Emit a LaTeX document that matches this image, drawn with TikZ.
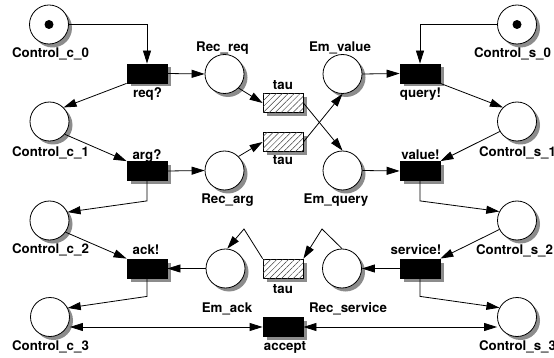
\documentclass[tikz,border=0pt]{standalone}
\usepackage{fontspec}
\setmainfont{TeX Gyre Heros}
\usetikzlibrary{shadows,patterns.meta,arrows.meta}
\begin{document}
\begin{tikzpicture}[x=1pt,y=-1pt,
  shd/.style={drop shadow={shadow xshift=3.5pt,shadow yshift=-3.5pt,fill=black!45,opacity=1}},
  place/.style={circle,draw,line width=0.8pt,fill=white,minimum size=39pt,inner sep=0pt,shd},
  trans/.style={rectangle,draw,line width=0.8pt,fill=black,minimum width=40pt,minimum height=19pt,inner sep=0pt,shd},
  tautrans/.style={rectangle,draw,line width=0.8pt,fill=white,minimum width=40pt,minimum height=19pt,inner sep=0pt,shd,
     postaction={pattern={Lines[angle=45,distance=4.2pt,line width=0.5pt]},pattern color=black!75}},
  lbl/.style={font=\fontsize{13.3}{15}\selectfont\bfseries,inner sep=0pt,anchor=base},
  arc/.style={line width=0.8pt,-{Triangle[length=13pt,width=8pt]}},
  arcboth/.style={line width=0.8pt,{Triangle[length=13pt,width=8pt]}-{Triangle[length=13pt,width=8pt]}},
  tokenstyle/.style={circle,fill=black,inner sep=0pt,minimum size=9pt}
]
\useasboundingbox (0,0) rectangle (554,358);

% places
\node[place] (cc0) at (49,24.5) {};
\node[tokenstyle] (tok0) at (cc0) {};
\node[place] (cc1) at (49.5,121.5) {};
\node[place] (cc2) at (49.5,220.5) {};
\node[place] (cc3) at (50,317) {};
\node[place] (cs0) at (517,24.5) {};
\node[tokenstyle] (tok1) at (cs0) {};
\node[place] (cs1) at (517,121.5) {};
\node[place] (cs2) at (517,220.5) {};
\node[place] (cs3) at (517,317) {};
\node[place] (recreq) at (224.5,74) {};
\node[place] (recarg) at (224.5,170.5) {};
\node[place] (emvalue) at (342.5,74) {};
\node[place] (emquery) at (342.5,170.5) {};
\node[place] (emack) at (225.5,268.5) {};
\node[place] (recserv) at (342,268.5) {};

% transitions
\node[trans] (req) at (147,73.5) {};
\node[trans] (arg) at (147,171) {};
\node[trans] (ack) at (147,268.5) {};
\node[trans] (query) at (420,73.5) {};
\node[trans] (value) at (420,171) {};
\node[trans] (service) at (420,268.5) {};
\node[trans] (accept) at (283,327) {};
\node[tautrans] (tau1) at (283,103) {};
\node[tautrans] (tau2) at (283,142) {};
\node[tautrans] (tau3) at (283,268.5) {};

% bend points
\coordinate (b1) at (244,229);
\coordinate (b2) at (322,229);

% labels
\node[lbl] (lcc0) at (50.5,57.5) {Control\_c\_0};
\node[lbl] (lcc1) at (50.5,156.5) {Control\_c\_1};
\node[lbl] (lcc2) at (50.5,253.5) {Control\_c\_2};
\node[lbl] (lcc3) at (50.5,350.5) {Control\_c\_3};
\node[lbl] (lcs0) at (512.5,57.5) {Control\_s\_0};
\node[lbl] (lcs1) at (517.5,156.5) {Control\_s\_1};
\node[lbl] (lcs2) at (514.5,254.5) {Control\_s\_2};
\node[lbl] (lcs3) at (517.5,350.5) {Control\_s\_3};
\node[lbl] (lrecreq) at (222.5,51.5) {Rec\_req};
\node[lbl] (lemvalue) at (340,51.5) {Em\_value};
\node[lbl] (lrecarg) at (227.5,204) {Rec\_arg};
\node[lbl] (lemquery) at (336,204) {Em\_query};
\node[lbl] (lemack) at (227,312.5) {Em\_ack};
\node[lbl] (lrecserv) at (348,312.5) {Rec\_service};
\node[lbl] (lreq) at (147.5,97.5) {req?};
\node[lbl] (larg) at (147,159.5) {arg?};
\node[lbl] (lack) at (146,254.5) {ack!};
\node[lbl] (lquery) at (420.5,97.5) {query!};
\node[lbl] (lvalue) at (420.5,159.5) {value!};
\node[lbl] (lservice) at (416,254.5) {service!};
\node[lbl] (laccept) at (285,350.5) {accept};
\node[lbl] (ltau1) at (283,90) {tau};
\node[lbl] (ltau2) at (283,165) {tau};
\node[lbl] (ltau3) at (283,293) {tau};

% arcs
\draw[arc] (cc0.east) -| (req.north);
\draw[arc] (req.east) -- (recreq.west);
\draw[arc] (req.south west) -- (cc1.45);
\draw[arc] (cc1.-40) -- (arg.north west);
\draw[arc] (arg.east) -- (recarg.west);
\draw[arc] (recreq.-45) -- (tau1.west);
\draw[arc] (recarg.45) -- (tau2.west);
\draw[arc] (tau1.east) -- (emquery.north);
\draw[arc] (tau2.east) -- (emvalue.south);
\draw[arc] (emvalue.east) -- (query.west);
\draw[arc] (emquery.east) -- (value.west);
\draw[arc] (cs0.west) -| (query.north);
\draw[arc] (query.south east) -- (cs1.135);
\draw[arc] (cs1.210) -- (value.north east);
\draw[arc] (arg.south) -- ([yshift=-20pt]arg.south) -- (cc2.25);
\draw[arc] (value.south) -- ([yshift=-20pt]value.south) -- (cs2.153);
\draw[arc] (cc2.-36) -- (ack.north west);
\draw[arc] (cs2.207) -- (service.north east);
\draw[arc] (ack.south) -- ([yshift=-18pt]ack.south) -- (cc3.27);
\draw[arc] (service.south) -- ([yshift=-18pt]service.south) -- (cs3.152);
\draw[arc] (emack.west) -- (ack.east);
\draw[arc] (service.west) -- (recserv.east);
\draw[arc] (tau3.north west) -- (b1) -- (emack.85);
\draw[arc] (recserv.north) -- (b2) -- (tau3.north east);
\draw[arcboth] (accept.west -| cc3.east) -- (accept.west);
\draw[arcboth] (accept.east) -- (accept.east -| cs3.west);
\end{tikzpicture}
\end{document}
